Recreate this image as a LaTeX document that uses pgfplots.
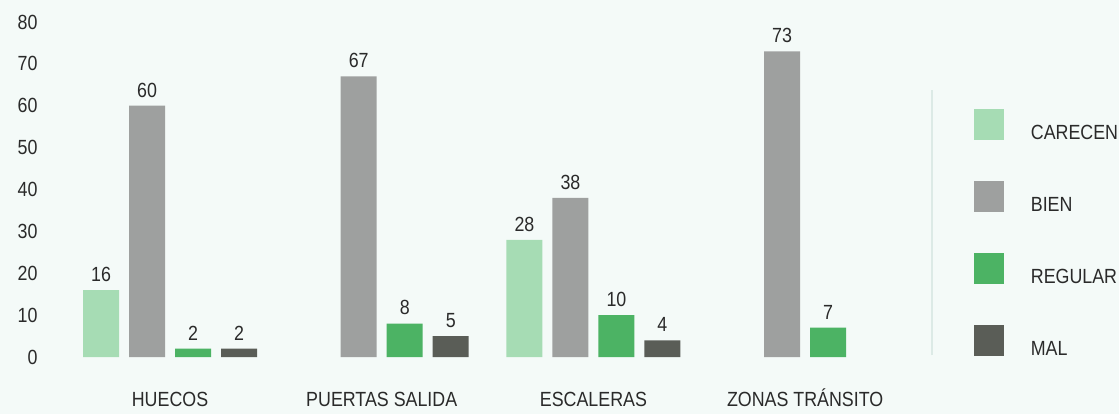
\documentclass[border=0pt]{standalone}
\usepackage{fontspec}
\setmainfont{Liberation Sans}[FakeStretch=0.87]
\usepackage{pgfplots}
\pgfplotsset{compat=1.18}
\definecolor{bg}{HTML}{F4FAF8}
\definecolor{carecen}{HTML}{A6DCB4}
\definecolor{bien}{HTML}{9EA09F}
\definecolor{regular}{HTML}{4CB364}
\definecolor{mal}{HTML}{5A5D57}
\definecolor{txt}{HTML}{2A2A2A}
\definecolor{linec}{HTML}{DCEAE6}
\begin{document}
\begin{tikzpicture}[x=1bp,y=1bp]
\fill[bg] (0,0) rectangle (1119,414);
\draw[linec, line width=1.5bp] (932,59) -- (932,324);
\begin{axis}[
  at={(38bp,57bp)}, anchor=south west,
  scale only axis, width=873bp, height=335bp,
  xmin=-0.6235, xmax=3.5, ymin=0, ymax=80,
  axis line style={draw=none},
  major tick length=0pt,
  ytick={0,10,...,80},
  xtick={0,1,2,3},
  xticklabels={HUECOS, PUERTAS SALIDA, ESCALERAS, ZONAS TRÁNSITO},
  /pgf/number format/assume math mode=true,
  tick label style={font=\fontsize{20.5bp}{24bp}\selectfont, text=txt},
  yticklabel style={xshift=3bp},
  xticklabel style={yshift=-31bp, text height=15bp, text depth=0pt},
  ybar=10bp, bar width=36bp,
  nodes near coords,
  every node near coord/.append style={font=\fontsize{20.5bp}{24bp}\selectfont, text=txt, yshift=5bp, text depth=0pt},
  legend image code/.code={\draw[#1,draw=none] (0bp,-1bp) rectangle (30bp,30bp);},
  legend style={at={(1.072,0.740)}, anchor=north west, draw=none, fill=none,
    inner sep=0pt, outer sep=0pt, row sep=41bp,
    font=\fontsize{20.5bp}{24bp}\selectfont, text=txt,
    nodes={inner sep=0pt, anchor=base west, text height=15bp, text depth=0pt},
    /tikz/every odd column/.append style={column sep=27bp}},
  legend cell align=left,
]
\addplot[fill=carecen, draw=none] coordinates {(0,16) (2,28)};
\addplot[fill=bien, draw=none] coordinates {(0,60) (1,67) (2,38) (3,73)};
\addplot[fill=regular, draw=none] coordinates {(0,2) (1,8) (2,10) (3,7)};
\addplot[fill=mal, draw=none] coordinates {(0,2) (1,5) (2,4)};
\legend{CARECEN, BIEN, REGULAR, MAL}
\end{axis}
\end{tikzpicture}
\end{document}
